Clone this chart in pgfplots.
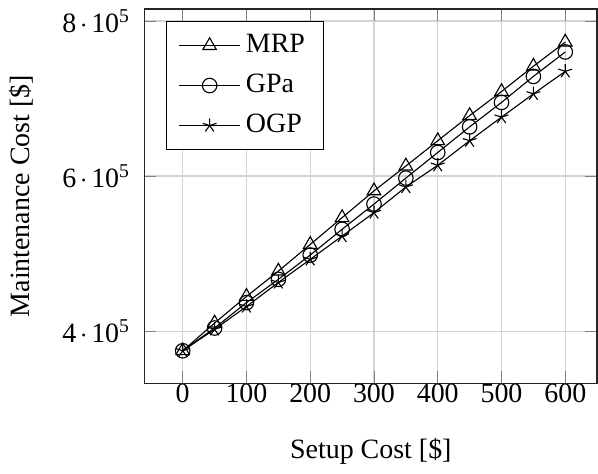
\documentclass[border=0pt]{standalone}
\usepackage{fontspec}
\setmainfont{Liberation Serif}
\usepackage{pgfplots}
\pgfplotsset{compat=1.18}

\begin{document}
\begin{tikzpicture}
\begin{axis}[
  scale only axis,
  width=162pt, height=134pt,
  xmin=-60, xmax=650,
  ymin=333000, ymax=815500,
  xtick={0,100,200,300,400,500,600},
  ytick={400000,600000,800000},
  yticklabels={4\hspace{0.13em}$\cdot$\hspace{0.13em}10\textsuperscript{5},
               6\hspace{0.13em}$\cdot$\hspace{0.13em}10\textsuperscript{5},
               8\hspace{0.13em}$\cdot$\hspace{0.13em}10\textsuperscript{5}},
  yticklabel style={xshift=-1.5pt},
  xticklabel style={yshift=3.5pt},
  ylabel style={yshift=3.5pt},
  xlabel style={yshift=-6pt},
  /pgf/number format/assume math mode=true,
  scaled y ticks=false,
  grid=major, grid style={gray!35, line width=0.5pt},
  axis line style={black!85, line width=0.6pt},
  xlabel={Setup Cost [\$]},
  ylabel={Maintenance Cost [\$]},
  legend style={at={(0.047,0.967)}, anchor=north west, draw=black, fill=white,
    font=\normalsize, row sep=2.2pt, inner xsep=4.5pt, inner ysep=2.5pt},
  legend cell align=left,
  legend image code/.code={\draw[mark repeat=2,mark phase=2]
    plot coordinates {(0cm,0cm)(0.38cm,0cm)(0.76cm,0cm)};},
]
\addplot[black, mark=triangle, mark size=2.8pt] coordinates {
  (0,375000)(50,410700)(100,445000)(150,477600)(200,512000)(250,546500)
  (300,581000)(350,613000)(400,645600)(450,678000)(500,709000)(550,741600)(600,772700)};
\addlegendentry{MRP}
\addplot[black, mark=o, mark size=2.6pt] coordinates {
  (0,375000)(50,404300)(100,437000)(150,467000)(200,498300)(250,531500)
  (300,564000)(350,597500)(400,630500)(450,663500)(500,695000)(550,728500)(600,760000)};
\addlegendentry{GPa}
\addplot[black, mark=star, mark size=2.6pt] coordinates {
  (0,375000)(50,402600)(100,432000)(150,463000)(200,492700)(250,522800)
  (300,553000)(350,586000)(400,614000)(450,645600)(500,676000)(550,706000)(600,735000)};
\addlegendentry{OGP}
\end{axis}
\end{tikzpicture}
\end{document}
